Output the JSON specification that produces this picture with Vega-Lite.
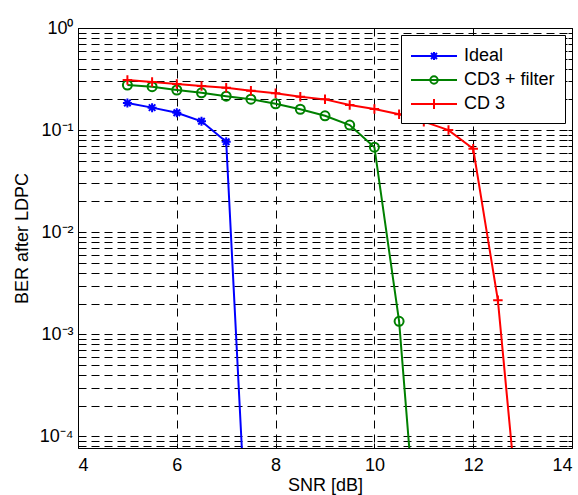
{
  "$schema": "https://vega.github.io/schema/vega-lite/v6.json",
  "autosize": {"type": "none"},
  "padding": {"left": 78, "top": 28, "right": 6, "bottom": 47},
  "width": 494,
  "height": 420,
  "background": "white",
  "config": {
    "view": {"stroke": "black", "strokeWidth": 1},
    "font": "Liberation Sans",
    "axis": {"labelFont": "Liberation Sans", "titleFont": "Liberation Sans", "labelColor": "black", "titleColor": "black", "titleFontWeight": "normal"}
  },
  "data": {
    "values": [
      {"snr": 5, "ber": 0.184, "series": "Ideal"},
      {"snr": 5.5, "ber": 0.166, "series": "Ideal"},
      {"snr": 6, "ber": 0.148, "series": "Ideal"},
      {"snr": 6.5, "ber": 0.122, "series": "Ideal"},
      {"snr": 7, "ber": 0.0768, "series": "Ideal"},
      {"snr": 7.5, "ber": 0.0000014, "series": "Ideal"},
      {"snr": 5, "ber": 0.276, "series": "CD3 + filter"},
      {"snr": 5.5, "ber": 0.266, "series": "CD3 + filter"},
      {"snr": 6, "ber": 0.247, "series": "CD3 + filter"},
      {"snr": 6.5, "ber": 0.232, "series": "CD3 + filter"},
      {"snr": 7, "ber": 0.215, "series": "CD3 + filter"},
      {"snr": 7.5, "ber": 0.201, "series": "CD3 + filter"},
      {"snr": 8, "ber": 0.181, "series": "CD3 + filter"},
      {"snr": 8.5, "ber": 0.160, "series": "CD3 + filter"},
      {"snr": 9, "ber": 0.138, "series": "CD3 + filter"},
      {"snr": 9.5, "ber": 0.112, "series": "CD3 + filter"},
      {"snr": 10, "ber": 0.068, "series": "CD3 + filter"},
      {"snr": 10.5, "ber": 0.00134, "series": "CD3 + filter"},
      {"snr": 11, "ber": 0.0000013, "series": "CD3 + filter"},
      {"snr": 5, "ber": 0.309, "series": "CD 3"},
      {"snr": 5.5, "ber": 0.296, "series": "CD 3"},
      {"snr": 6, "ber": 0.283, "series": "CD 3"},
      {"snr": 6.5, "ber": 0.270, "series": "CD 3"},
      {"snr": 7, "ber": 0.260, "series": "CD 3"},
      {"snr": 7.5, "ber": 0.243, "series": "CD 3"},
      {"snr": 8, "ber": 0.229, "series": "CD 3"},
      {"snr": 8.5, "ber": 0.212, "series": "CD 3"},
      {"snr": 9, "ber": 0.200, "series": "CD 3"},
      {"snr": 9.5, "ber": 0.176, "series": "CD 3"},
      {"snr": 10, "ber": 0.161, "series": "CD 3"},
      {"snr": 10.5, "ber": 0.143, "series": "CD 3"},
      {"snr": 11, "ber": 0.121, "series": "CD 3"},
      {"snr": 11.5, "ber": 0.100, "series": "CD 3"},
      {"snr": 12, "ber": 0.0656, "series": "CD 3"},
      {"snr": 12.5, "ber": 0.00215, "series": "CD 3"},
      {"snr": 13, "ber": 0.0000059, "series": "CD 3"}
    ]
  },
  "resolve": {"axis": {"x": "independent", "y": "independent"}},
  "layer": [
    {
      "mark": {"type": "line", "clip": true, "strokeWidth": 2},
      "encoding": {
        "x": {"field": "snr", "type": "quantitative", "scale": {"domain": [4, 14], "nice": false, "zero": false},
          "axis": {"orient": "bottom", "values": [4, 6, 8, 10, 12, 14], "title": "SNR [dB]", "grid": true, "gridColor": "black", "gridDash": [8, 6], "gridWidth": 1, "gridOpacity": 1, "domain": false, "tickSize": -5, "tickColor": "black", "labelPadding": 13, "labelFontSize": 18, "titleFontSize": 18, "titlePadding": 2}},
        "y": {"field": "ber", "type": "quantitative", "scale": {"type": "log", "domain": [0.000077, 1], "nice": false},
          "axis": {"orient": "left", "values": [0.00008, 0.00009, 0.0001, 0.0002, 0.0003, 0.0004, 0.0005, 0.0006, 0.0007, 0.0008, 0.0009, 0.001, 0.002, 0.003, 0.004, 0.005, 0.006, 0.007, 0.008, 0.009, 0.01, 0.02, 0.03, 0.04, 0.05, 0.06, 0.07, 0.08, 0.09, 0.1, 0.2, 0.3, 0.4, 0.5, 0.6, 0.7, 0.8, 0.9, 1],
            "labelExpr": "datum.value == 1 ? '10⁰' : abs(datum.value - 0.1) < 1e-9 ? '10⁻¹' : abs(datum.value - 0.01) < 1e-10 ? '10⁻²' : abs(datum.value - 0.001) < 1e-11 ? '10⁻³' : abs(datum.value - 0.0001) < 1e-12 ? '10⁻⁴' : ''",
            "title": "BER after LDPC", "grid": true, "gridColor": "black", "gridDash": [8, 5], "gridWidth": 1, "gridOpacity": 1, "domain": false, "tickSize": -4, "tickColor": "black", "labelPadding": 9, "labelFontSize": 18, "titleFontSize": 18, "titlePadding": 8, "labelOverlap": false, "labelBound": false}},
        "color": {"field": "series", "type": "nominal", "sort": ["Ideal", "CD3 + filter", "CD 3"],
          "scale": {"domain": ["Ideal", "CD3 + filter", "CD 3"], "range": ["#0000ff", "#008000", "#ff0000"]},
          "legend": {"title": null, "orient": "top-right", "offset": 7, "fillColor": "white", "strokeColor": "black", "padding": 10,
            "labelFont": "Liberation Sans", "labelFontSize": 18, "labelColor": "black", "symbolSize": 400, "symbolStrokeWidth": 2, "symbolOffset": 12, "labelOffset": 19, "rowPadding": 4,
            "encode": {"symbols": {"update": {
              "shape": {"signal": "datum.value === 'Ideal' ? 'M-2.3,0H2.3M-0.4,0H0.4M0,-0.4V0.4M-0.3,-0.3L0.3,0.3M-0.3,0.3L0.3,-0.3' : datum.value === 'CD3 + filter' ? 'M-2.3,0H2.3M-0.37,0A0.37,0.37 0 1,0 0.37,0A0.37,0.37 0 1,0 -0.37,0' : 'M-2.3,0H2.3M0,-0.5V0.5'"},
              "fill": {"value": "transparent"},
              "strokeWidth": {"value": 2}
            }}}}}
      }
    },
    {
      "transform": [{"filter": "datum.series === 'Ideal'"}],
      "mark": {"type": "point", "clip": true, "filled": false, "strokeWidth": 2, "size": 100, "opacity": 1, "color": "#0000ff",
        "shape": "M-0.9,0H0.9M0,-0.9V0.9M-0.65,-0.65L0.65,0.65M-0.65,0.65L0.65,-0.65"},
      "encoding": {
        "x": {"field": "snr", "type": "quantitative", "axis": null},
        "y": {"field": "ber", "type": "quantitative", "axis": null}
      }
    },
    {
      "transform": [{"filter": "datum.series === 'CD3 + filter'"}],
      "mark": {"type": "point", "clip": true, "filled": false, "strokeWidth": 2, "size": 100, "opacity": 1, "color": "#008000",
        "shape": "M-0.9,0A0.9,0.9 0 1,0 0.9,0A0.9,0.9 0 1,0 -0.9,0"},
      "encoding": {
        "x": {"field": "snr", "type": "quantitative", "axis": null},
        "y": {"field": "ber", "type": "quantitative", "axis": null}
      }
    },
    {
      "transform": [{"filter": "datum.series === 'CD 3'"}],
      "mark": {"type": "point", "clip": true, "filled": false, "strokeWidth": 2, "size": 100, "opacity": 1, "color": "#ff0000",
        "shape": "M-0.95,0H0.95M0,-0.95V0.95"},
      "encoding": {
        "x": {"field": "snr", "type": "quantitative",
          "axis": {"orient": "top", "values": [4, 6, 8, 10, 12, 14], "title": null, "labels": false, "grid": false, "domain": false, "tickSize": -5, "tickColor": "black"}},
        "y": {"field": "ber", "type": "quantitative",
          "axis": {"orient": "right", "values": [0.00008, 0.00009, 0.0001, 0.0002, 0.0003, 0.0004, 0.0005, 0.0006, 0.0007, 0.0008, 0.0009, 0.001, 0.002, 0.003, 0.004, 0.005, 0.006, 0.007, 0.008, 0.009, 0.01, 0.02, 0.03, 0.04, 0.05, 0.06, 0.07, 0.08, 0.09, 0.1, 0.2, 0.3, 0.4, 0.5, 0.6, 0.7, 0.8, 0.9, 1], "title": null, "labels": false, "grid": false, "domain": false, "tickSize": -4, "tickColor": "black"}}
      }
    }
  ]
}
